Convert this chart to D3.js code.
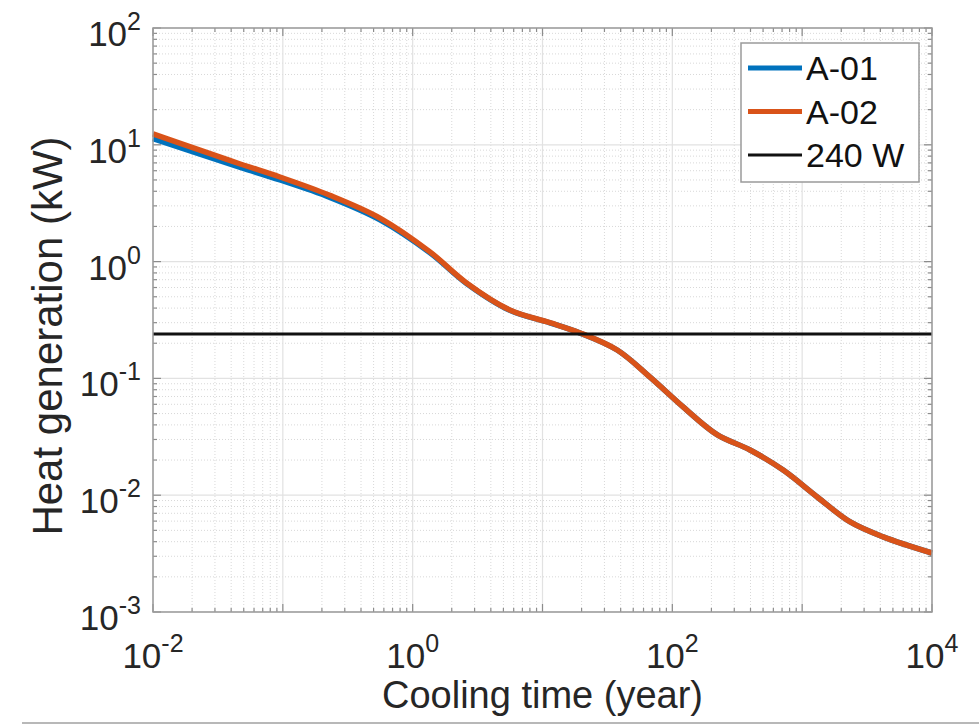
<!DOCTYPE html>
<html>
<head>
<meta charset="utf-8">
<script src="https://cdn.jsdelivr.net/npm/d3@7"></script>
<style>
  html, body { margin: 0; padding: 0; background: #fff; }
  svg { display: block; font-family: "Liberation Sans", Arial, Helvetica, sans-serif; }
</style>
</head>
<body>
<div id="chart"></div>
<script>
// cooling time (year) and heat generation (kW)
const years = [0.01, 0.023, 0.047, 0.095, 0.23, 0.56, 1.36, 2.6, 5.6, 11.4, 19.5, 37.6, 67, 121, 221, 397, 714, 1306, 2344, 4207, 10000];
const a01 = [11.3, 8.3, 6.4, 5.0, 3.55, 2.28, 1.19, 0.65, 0.383, 0.299, 0.244, 0.175, 0.103, 0.057, 0.033, 0.0244, 0.0164, 0.00966, 0.0059, 0.0044, 0.0032];
const a02 = [12.4, 9.0, 6.85, 5.3, 3.7, 2.36, 1.21, 0.656, 0.385, 0.30, 0.245, 0.175, 0.103, 0.057, 0.033, 0.0244, 0.0164, 0.00966, 0.0059, 0.0044, 0.0032];
const limit = 0.24; // 240 W

const xExps = [-2, 0, 2, 4];
const yExps = [-3, -2, -1, 0, 1, 2];
const seriesNames = ["A-01", "A-02", "240 W"];
const colors = ["#0072BD", "#D95319", "#111111"];

const width = 979, height = 726;
const margin = { left: 153, right: 47, top: 28, bottom: 114 };
const innerW = width - margin.left - margin.right;
const innerH = height - margin.top - margin.bottom;

const svg = d3.select("#chart").append("svg")
  .attr("width", width)
  .attr("height", height);

const x = d3.scaleLog().domain([1e-2, 1e4]).range([margin.left, margin.left + innerW]);
const y = d3.scaleLog().domain([1e-3, 1e2]).range([margin.top + innerH, margin.top]);

const minorVals = (lo, hi) => {
  const out = [];
  for (let e = lo; e < hi; e++) for (let k = 2; k <= 9; k++) out.push(k * Math.pow(10, e));
  return out;
};
const xMinor = minorVals(-2, 4);
const yMinor = minorVals(-3, 2);
const xMajor = d3.range(-2, 5).map(e => Math.pow(10, e));
const yMajor = d3.range(-3, 3).map(e => Math.pow(10, e));

const grid = svg.append("g");
// minor grid, dotted
grid.selectAll(".xm").data(xMinor).join("line")
  .attr("x1", d => x(d)).attr("x2", d => x(d))
  .attr("y1", margin.top).attr("y2", margin.top + innerH)
  .attr("stroke", "#d8d8d8").attr("stroke-width", 1).attr("stroke-dasharray", "1,2");
grid.selectAll(".ym").data(yMinor).join("line")
  .attr("y1", d => y(d)).attr("y2", d => y(d))
  .attr("x1", margin.left).attr("x2", margin.left + innerW)
  .attr("stroke", "#d8d8d8").attr("stroke-width", 1).attr("stroke-dasharray", "1,2");
// major grid
grid.selectAll(".xM").data(xMajor).join("line")
  .attr("x1", d => x(d)).attr("x2", d => x(d))
  .attr("y1", margin.top).attr("y2", margin.top + innerH)
  .attr("stroke", "#e2e2e2").attr("stroke-width", 1.2);
grid.selectAll(".yM").data(yMajor).join("line")
  .attr("y1", d => y(d)).attr("y2", d => y(d))
  .attr("x1", margin.left).attr("x2", margin.left + innerW)
  .attr("stroke", "#e2e2e2").attr("stroke-width", 1.2);

// ticks on all four sides, pointing inward
const tickCol = "#8c8c8c";
const ticks = svg.append("g").attr("stroke", tickCol).attr("stroke-width", 1.2);
const addTicks = (vals, len) => {
  vals.forEach(v => {
    ticks.append("line").attr("x1", x(v)).attr("x2", x(v)).attr("y1", margin.top + innerH).attr("y2", margin.top + innerH - len);
    ticks.append("line").attr("x1", x(v)).attr("x2", x(v)).attr("y1", margin.top).attr("y2", margin.top + len);
  });
};
const addYTicks = (vals, len) => {
  vals.forEach(v => {
    ticks.append("line").attr("y1", y(v)).attr("y2", y(v)).attr("x1", margin.left).attr("x2", margin.left + len);
    ticks.append("line").attr("y1", y(v)).attr("y2", y(v)).attr("x1", margin.left + innerW).attr("x2", margin.left + innerW - len);
  });
};
addTicks(xMajor, 8); addTicks(xMinor, 4);
addYTicks(yMajor, 8); addYTicks(yMinor, 4);

// curves
const line = d3.line().curve(d3.curveCatmullRom.alpha(0.5))
  .x(d => x(d[0])).y(d => y(d[1]));

svg.append("path")
  .datum(years.map((t, i) => [t, a01[i]]))
  .attr("d", line).attr("fill", "none")
  .attr("stroke", colors[0]).attr("stroke-width", 5.5);
svg.append("path")
  .datum(years.map((t, i) => [t, a02[i]]))
  .attr("d", line).attr("fill", "none")
  .attr("stroke", colors[1]).attr("stroke-width", 5.5);
svg.append("line")
  .attr("x1", x(1e-2)).attr("x2", x(1e4))
  .attr("y1", y(limit)).attr("y2", y(limit))
  .attr("stroke", colors[2]).attr("stroke-width", 3);

// axes box
svg.append("rect")
  .attr("x", margin.left).attr("y", margin.top)
  .attr("width", innerW).attr("height", innerH)
  .attr("fill", "none").attr("stroke", "#9a9a9a").attr("stroke-width", 1.5);

// tick labels: 10 with superscript
const powLabel = (g, e) => {
  g.append("tspan").text("10");
  g.append("tspan").text(e).attr("font-size", 25).attr("dy", -16);
};
svg.append("g").selectAll("text").data(yExps).join("text")
  .attr("x", 141).attr("y", d => y(Math.pow(10, d)) + 18)
  .attr("text-anchor", "end").attr("font-size", 35).attr("fill", "#262626")
  .each(function(d) { powLabel(d3.select(this), d); });
svg.append("g").selectAll("text").data(xExps).join("text")
  .attr("x", d => x(Math.pow(10, d))).attr("y", 668)
  .attr("text-anchor", "middle").attr("font-size", 35).attr("fill", "#262626")
  .each(function(d) { powLabel(d3.select(this), d); });

// axis titles
svg.append("text")
  .attr("x", margin.left + innerW / 2).attr("y", 708)
  .attr("text-anchor", "middle").attr("font-size", 38).attr("fill", "#262626")
  .text("Cooling time (year)");
svg.append("text")
  .attr("transform", `translate(62,${margin.top + innerH / 2 + 16}) rotate(-90)`)
  .attr("text-anchor", "middle").attr("font-size", 42).attr("fill", "#262626")
  .text("Heat generation (kW)");

// legend
const legend = svg.append("g");
legend.append("rect")
  .attr("x", 741).attr("y", 43).attr("width", 178).attr("height", 139)
  .attr("fill", "#fff").attr("stroke", "#9a9a9a").attr("stroke-width", 1.5);
seriesNames.forEach((name, i) => {
  const cy = 68 + i * 43.5;
  legend.append("line")
    .attr("x1", 748).attr("x2", 802).attr("y1", cy).attr("y2", cy)
    .attr("stroke", colors[i]).attr("stroke-width", i < 2 ? 5 : 3);
  legend.append("text")
    .attr("x", 806).attr("y", cy + 12)
    .attr("font-size", 34).attr("fill", "#111")
    .text(name);
});

// thin rule along the bottom edge of the image
svg.append("line")
  .attr("x1", 22).attr("x2", width).attr("y1", 723).attr("y2", 723)
  .attr("stroke", "#b8b8b8").attr("stroke-width", 2);
</script>
</body>
</html>
